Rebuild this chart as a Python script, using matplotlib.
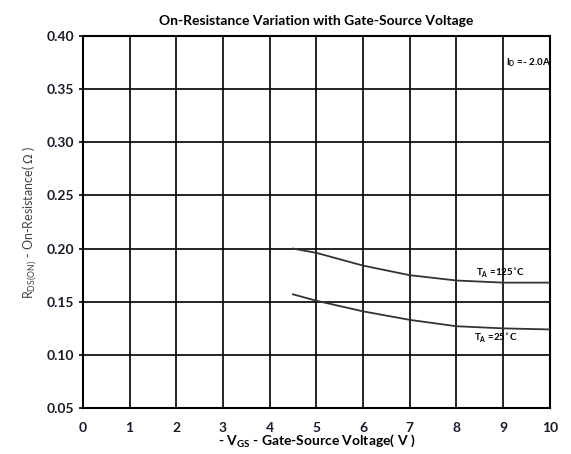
import matplotlib
matplotlib.use("Agg")
import matplotlib.pyplot as plt

# curves (-VGS in V, RDS(on) in ohm)
vgs = [4.5, 5, 6, 7, 8, 9, 10]
r_125c = [0.200, 0.196, 0.184, 0.175, 0.170, 0.168, 0.168]
r_25c = [0.157, 0.151, 0.141, 0.133, 0.127, 0.125, 0.124]

x_ticks = list(range(0, 11))
y_ticks = [0.05, 0.10, 0.15, 0.20, 0.25, 0.30, 0.35, 0.40]

plt.rcParams["font.family"] = ["Lato", "DejaVu Sans"]

fig = plt.figure(figsize=(5.71, 4.54), dpi=100)
ax = fig.add_axes([0.145, 0.101, 0.818, 0.820])

ax.plot(vgs, r_125c, color="#333333", lw=1.3, zorder=3)
ax.plot(vgs, r_25c, color="#333333", lw=1.3, zorder=3)

ax.set_xlim(0, 10)
ax.set_ylim(0.05, 0.40)
ax.set_xticks(x_ticks)
ax.set_yticks(y_ticks)
ax.set_yticklabels([f"{v:.2f}" for v in y_ticks])
ax.grid(True, color="black", lw=1.2)
for s in ax.spines.values():
    s.set_linewidth(1.5)
ax.tick_params(axis="y", length=3, width=1.2, labelsize=10, pad=3)
ax.tick_params(axis="x", length=0, labelsize=10, pad=10)
for lab in ax.get_xticklabels() + ax.get_yticklabels():
    lab.set_fontweight("bold")
    lab.set_color("#1a1a2a")

ax.set_title("On-Resistance Variation with Gate-Source Voltage",
             fontsize=10, fontweight="bold", pad=8)
ax.set_xlabel(r"- V$_{\mathregular{GS}}$ - Gate-Source Voltage( V )",
              fontsize=10, fontweight="bold", labelpad=-1)
ax.set_ylabel(r"R$_{\mathregular{DS(ON)}}$ - On-Resistance( $\Omega$ )",
              fontsize=9, color="#444444", labelpad=6)

ax.text(9.55, 0.375, r"I$_{\mathregular{D}}$ =- 2.0A", fontsize=7,
        fontweight="bold", ha="center", va="center")
ax.text(8.95, 0.177, r"T$_{\mathregular{A}}$ =125$^{\circ}$C", fontsize=7,
        fontweight="bold", ha="center", va="center")
ax.text(8.85, 0.116, r"T$_{\mathregular{A}}$ =25$^{\circ}$C", fontsize=7,
        fontweight="bold", ha="center", va="center")

fig.savefig("out.png", dpi=100)
